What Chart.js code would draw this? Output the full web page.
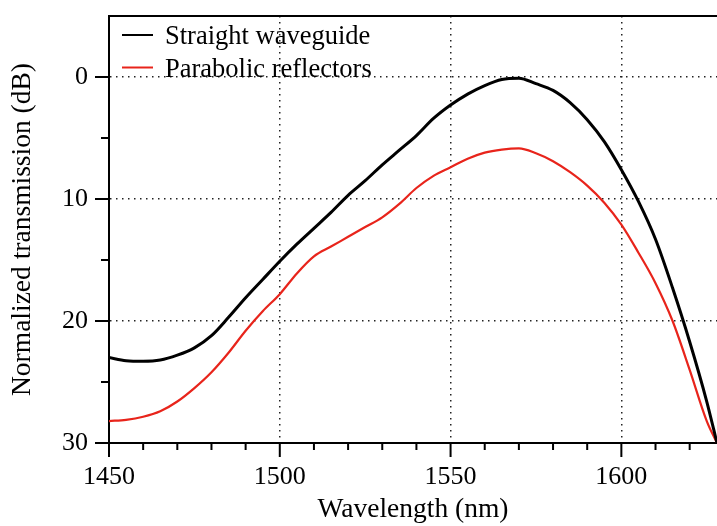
<!DOCTYPE html>
<html>
<head>
<meta charset="utf-8">
<script src="https://cdn.jsdelivr.net/npm/chart.js@4.4.0/dist/chart.umd.min.js"></script>
<style>
  body { margin: 0; background: #fff; }
</style>
</head>
<body>
<canvas id="lineChart" width="717" height="526"></canvas>
<script>
// wavelength samples (nm)
var wavelengths = [1450, 1455, 1460, 1465, 1470, 1475, 1480, 1485, 1490, 1495,
    1500, 1505, 1510, 1515, 1520, 1525, 1530, 1535, 1540, 1545,
    1550, 1555, 1560, 1565, 1570, 1575, 1580, 1585, 1590, 1595,
    1600, 1605, 1610, 1615, 1620, 1625, 1628];

// normalized transmission (dB), plotted downward
var straightWaveguide = [23.0, 23.25, 23.3, 23.2, 22.8, 22.2, 21.2, 19.7, 18.1, 16.6,
    15.1, 13.7, 12.4, 11.1, 9.7, 8.5, 7.2, 6.0, 4.8, 3.4,
    2.3, 1.4, 0.7, 0.2, 0.1, 0.55, 1.1, 2.1, 3.5, 5.3,
    7.6, 10.2, 13.3, 17.3, 21.7, 26.6, 30.0];

var parabolicReflectors = [28.2, 28.1, 27.85, 27.4, 26.6, 25.5, 24.2, 22.6, 20.8, 19.2,
    17.8, 16.1, 14.7, 13.9, 13.1, 12.3, 11.5, 10.4, 9.1, 8.1,
    7.4, 6.7, 6.2, 5.95, 5.85, 6.25, 6.9, 7.8, 8.9, 10.3,
    12.1, 14.4, 16.9, 20.0, 24.0, 28.2, 30.0];

var xTicks = [1450, 1460, 1470, 1480, 1490, 1500, 1510, 1520, 1530, 1540,
    1550, 1560, 1570, 1580, 1590, 1600, 1610, 1620];
var yTicks = [0, 5, 10, 15, 20, 25, 30];
var xGrid = [1500, 1550, 1600];
var yGrid = [0, 10, 20];

var serif = "'Liberation Serif', 'DejaVu Serif', serif";
var tickFont = { family: serif, size: 26 };
var titleFont = { family: serif, size: 27.5 };

function toPoints(xs, ys) {
    return xs.map(function (x, i) { return { x: x, y: ys[i] }; });
}

// ticks (long/short), top frame line and legend
var framePlugin = {
    id: 'frame',
    afterDraw: function (chart) {
        var ctx = chart.ctx;
        var area = chart.chartArea;
        var xs = chart.scales.x, ys = chart.scales.y;
        ctx.save();
        ctx.strokeStyle = '#000';
        ctx.lineWidth = 2;
        ctx.beginPath();
        ctx.moveTo(area.left - 1, area.top);
        ctx.lineTo(area.right, area.top);
        xTicks.forEach(function (v) {
            var px = xs.getPixelForValue(v);
            var len = v % 50 === 0 ? 14 : 7;
            ctx.moveTo(px, area.bottom);
            ctx.lineTo(px, area.bottom + len);
        });
        yTicks.forEach(function (v) {
            var py = ys.getPixelForValue(v);
            var len = v % 10 === 0 ? 14 : 8;
            ctx.moveTo(area.left, py);
            ctx.lineTo(area.left - len, py);
        });
        ctx.stroke();

        // legend
        var items = [
            { label: 'Straight waveguide', color: '#000', y: 35 },
            { label: 'Parabolic reflectors', color: '#e8241b', y: 67.5 }
        ];
        ctx.font = '26.5px ' + serif;
        ctx.textBaseline = 'alphabetic';
        ctx.textAlign = 'left';
        items.forEach(function (it) {
            ctx.strokeStyle = it.color;
            ctx.lineWidth = 2;
            ctx.beginPath();
            ctx.moveTo(area.left + 13, it.y);
            ctx.lineTo(area.left + 44, it.y);
            ctx.stroke();
            ctx.fillStyle = '#000';
            ctx.fillText(it.label, area.left + 56, it.y + 9);
        });
        ctx.restore();
    }
};

var ctx = document.getElementById('lineChart').getContext('2d');
var lineChart = new Chart(ctx, {
    type: 'line',
    data: {
        datasets: [{
            label: 'Straight waveguide',
            data: toPoints(wavelengths, straightWaveguide),
            borderColor: '#000',
            borderWidth: 3,
            pointRadius: 0,
            cubicInterpolationMode: 'monotone',
            fill: false
        }, {
            label: 'Parabolic reflectors',
            data: toPoints(wavelengths, parabolicReflectors),
            borderColor: '#e8241b',
            borderWidth: 2.2,
            pointRadius: 0,
            cubicInterpolationMode: 'monotone',
            fill: false
        }]
    },
    options: {
        responsive: false,
        animation: false,
        layout: { padding: { top: 16, right: 0, left: 0, bottom: 0 } },
        plugins: {
            legend: { display: false },
            tooltip: { enabled: false }
        },
        scales: {
            x: {
                type: 'linear',
                min: 1450,
                max: 1628,
                afterBuildTicks: function (s) {
                    s.ticks = xTicks.map(function (v) { return { value: v }; });
                },
                afterFit: function (s) {
                    s.height = 83;
                    s.paddingLeft = 0;
                    s.paddingRight = 0;
                },
                ticks: {
                    autoSkip: false,
                    maxRotation: 0,
                    padding: 19,
                    color: '#000',
                    font: tickFont,
                    callback: function (v) { return v % 50 === 0 ? v : ''; }
                },
                grid: {
                    drawTicks: false,
                    lineWidth: 1.5,
                    color: function (c) {
                        return c.tick && xGrid.indexOf(c.tick.value) >= 0 ? '#222' : 'rgba(0,0,0,0)';
                    }
                },
                border: { display: true, color: '#000', width: 2, dash: [1.5, 4.5] },
                title: {
                    display: true,
                    text: 'Wavelength (nm)',
                    color: '#000',
                    font: titleFont,
                    padding: { top: 0, bottom: 0 }
                }
            },
            y: {
                type: 'linear',
                reverse: true,
                min: -5,
                max: 30,
                afterBuildTicks: function (s) {
                    s.ticks = yTicks.map(function (v) { return { value: v }; });
                },
                afterFit: function (s) {
                    s.width = 109;
                    s.paddingTop = 0;
                    s.paddingBottom = 0;
                },
                ticks: {
                    padding: 21,
                    color: '#000',
                    font: tickFont,
                    callback: function (v) { return v % 10 === 0 ? v : ''; }
                },
                grid: {
                    drawTicks: false,
                    lineWidth: 1.5,
                    color: function (c) {
                        return c.tick && yGrid.indexOf(c.tick.value) >= 0 ? '#222' : 'rgba(0,0,0,0)';
                    }
                },
                border: { display: true, color: '#000', width: 2, dash: [1.5, 4.5] },
                title: {
                    display: true,
                    text: 'Normalized transmission (dB)',
                    color: '#000',
                    font: titleFont,
                    padding: { top: 6, bottom: 0 }
                }
            }
        }
    },
    plugins: [framePlugin]
});
</script>
</body>
</html>
